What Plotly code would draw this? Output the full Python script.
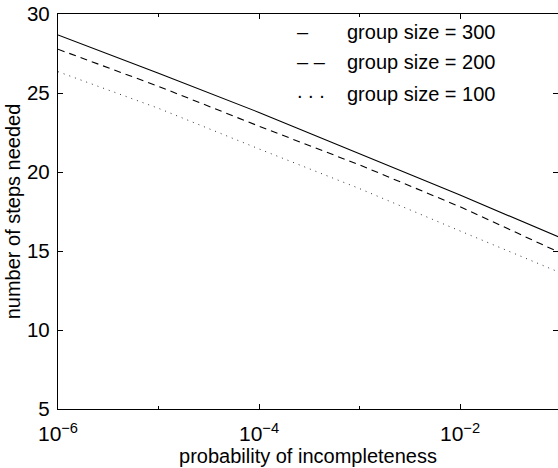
import plotly.graph_objects as go

# ---- data ----
prob = [1e-6, 1e-5, 1e-4, 1e-3, 1e-2, 1e-1]
steps_300 = [28.67, 26.25, 23.77, 21.16, 18.54, 15.84]
steps_200 = [27.77, 25.42, 22.90, 20.45, 17.80, 14.88]
steps_100 = [26.35, 24.03, 21.46, 18.95, 16.27, 13.62]
group_sizes = [300, 200, 100]
legend_marks = ["–", "– –", ". . ."]
x_tick_vals = [1e-6, 1e-4, 1e-2]
x_tick_text = ["10<sup>−6</sup>", "10<sup>−4</sup>", "10<sup>−2</sup>"]
x_minor_vals = [1e-5, 1e-3, 1e-1]
y_tick_vals = [5, 10, 15, 20, 25, 30]

FONT = "Liberation Sans, Arial, sans-serif"

W, H = 558, 468
ML, MR, MT, MB = 58, 0, 14, 59
PW = W - ML - MR
PH = H - MT - MB

fig = go.Figure()
series = [steps_300, steps_200, steps_100]
dashes = ["solid", "7px,5px", "1px,5px"]
widths = [1.1, 1.1, 1.0]
colors = ["black", "black", "#333333"]
for g, ys, d, w, c in zip(group_sizes, series, dashes, widths, colors):
    fig.add_trace(go.Scatter(x=prob, y=ys, mode="lines", name=f"group size = {g}",
                             line=dict(color=c, width=w, dash=d), showlegend=False))

def px_x(p):
    return (p - ML) / PW

def px_y(p):
    return (MT + PH - p) / PH

legend_rows_y = [31.5, 62.5, 94]
for g, mark, yy in zip(group_sizes, legend_marks, legend_rows_y):
    fig.add_annotation(x=px_x(295), y=px_y(yy if mark != ". . ." else yy - 3), xref="paper", yref="paper",
                       text=mark, showarrow=False, xanchor="left", yanchor="middle",
                       font=dict(family=FONT, size=20, color="black"))
    fig.add_annotation(x=px_x(345), y=px_y(yy), xref="paper", yref="paper",
                       text=f"group size = {g}", showarrow=False, xanchor="left", yanchor="middle",
                       font=dict(family=FONT, size=20, color="black"))

fig.update_layout(
    width=W, height=H,
    margin=dict(l=ML, r=MR, t=MT, b=MB),
    paper_bgcolor="white", plot_bgcolor="white",
    font=dict(family=FONT, size=20, color="black"),
    xaxis=dict(
        type="log", range=[-6, -1.025],
        tickmode="array", tickvals=x_tick_vals, ticktext=x_tick_text,
        ticks="inside", ticklen=5, tickwidth=1, tickcolor="black",
        minor=dict(tickmode="array", tickvals=x_minor_vals, ticks="inside", ticklen=3,
                   tickcolor="black", tickwidth=1, showgrid=False),
        showline=True, linecolor="black", linewidth=1.4, mirror="ticks",
        showgrid=False, zeroline=False,
        tickfont=dict(family=FONT, size=21),
        ticklabelstandoff=6,
        title=dict(text="probability of incompleteness", font=dict(family=FONT, size=20), standoff=1),
    ),
    yaxis=dict(
        range=[5, 30], tickmode="array", tickvals=y_tick_vals,
        ticks="inside", ticklen=5, tickwidth=1, tickcolor="black",
        showline=True, linecolor="black", linewidth=1.4, mirror="ticks",
        showgrid=False, zeroline=False,
        tickfont=dict(family=FONT, size=20.5),
        ticklabelstandoff=3,
        title=dict(text="number of steps needed", font=dict(family=FONT, size=20), standoff=0),
    ),
)

fig.write_html("out.html")
